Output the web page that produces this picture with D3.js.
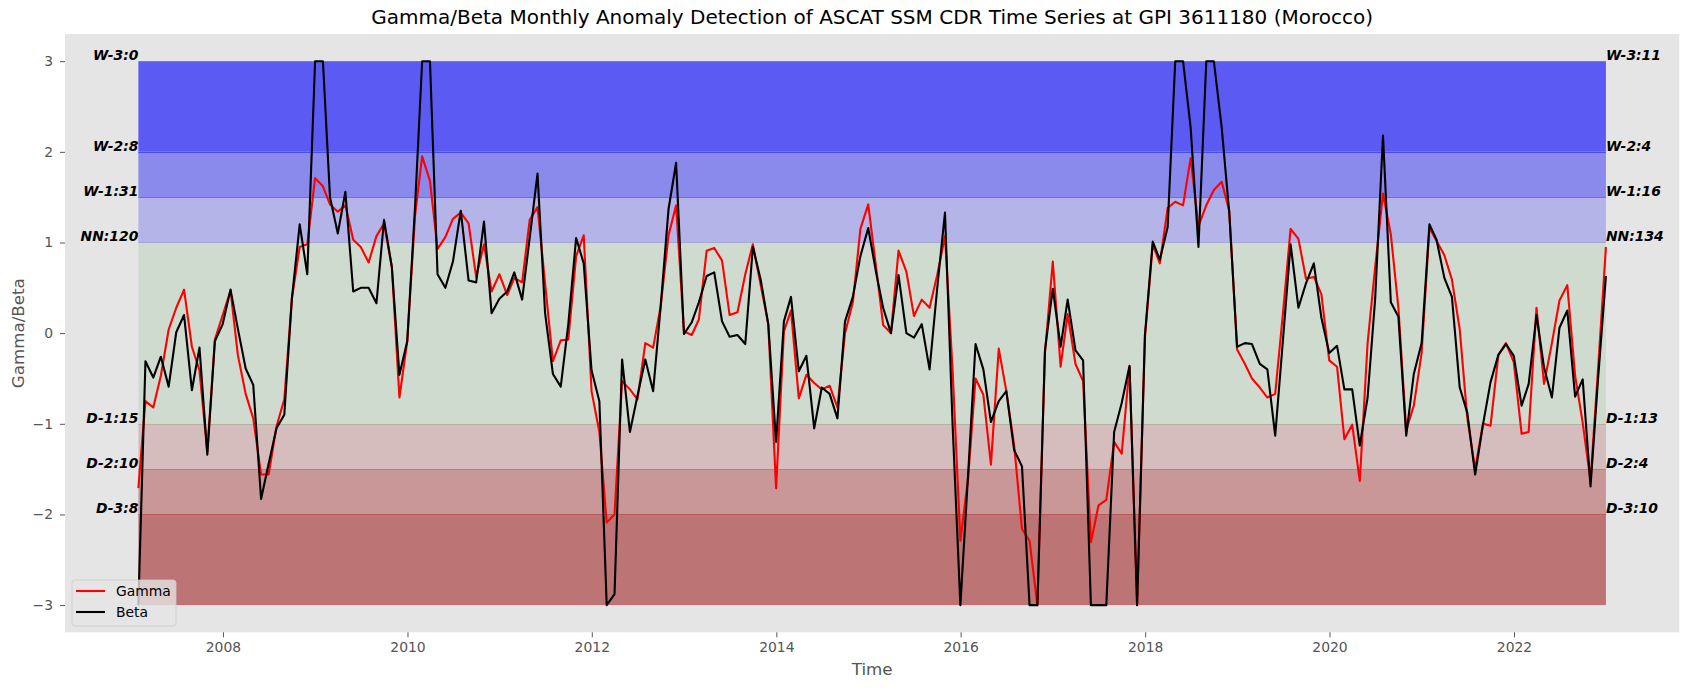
<!DOCTYPE html>
<html>
<head>
<meta charset="utf-8">
<script src="https://cdn.jsdelivr.net/npm/d3@7"></script>
<style>
    body { margin: 0; background: #fff; }
    svg { display: block; font-family: 'DejaVu Sans', sans-serif; }
</style>
</head>
<body>
<div id="chart"></div>
<script>
// monthly values, Jan 2007 .. Dec 2022 (month-end stamps)
const gamma = [
    -1.71, -0.75, -0.82, -0.47, 0.04, 0.28, 0.48, -0.15, -0.41, -1.31, -0.07, 0.20,
    0.47, -0.24, -0.67, -0.94, -1.56, -1.56, -1.03, -0.73, 0.38, 0.95, 0.98, 1.71,
    1.62, 1.42, 1.34, 1.41, 1.03, 0.95, 0.78, 1.07, 1.21, 0.73, -0.71, -0.09,
    1.30, 1.95, 1.68, 0.93, 1.06, 1.26, 1.33, 1.21, 0.62, 0.98, 0.46, 0.65,
    0.42, 0.61, 0.56, 1.25, 1.39, 0.55, -0.31, -0.08, -0.07, 0.85, 1.08, -0.64,
    -1.09, -2.09, -2.00, -0.53, -0.62, -0.73, -0.11, -0.16, 0.30, 1.08, 1.41, 0.02,
    -0.02, 0.15, 0.91, 0.94, 0.80, 0.20, 0.23, 0.65, 0.98, 0.53, 0.10, -1.71,
    0.02, 0.25, -0.72, -0.46, -0.55, -0.62, -0.58, -0.82, 0.00, 0.34, 1.15, 1.42,
    0.73, 0.09, 0.00, 0.91, 0.68, 0.19, 0.37, 0.28, 0.64, 1.07, -0.40, -2.29,
    -1.59, -0.50, -0.68, -1.45, -0.17, -0.64, -1.24, -2.16, -2.29, -3.00, -0.22, 0.79,
    -0.37, 0.21, -0.34, -0.53, -2.31, -1.90, -1.84, -1.20, -1.33, -0.37, -3.00, -0.05,
    0.98, 0.77, 1.38, 1.45, 1.41, 1.93, 1.18, 1.41, 1.58, 1.67, 1.35, -0.18,
    -0.34, -0.50, -0.60, -0.71, -0.67, 0.20, 1.15, 1.04, 0.60, 0.62, 0.43, -0.30,
    -0.37, -1.17, -1.01, -1.63, -0.11, 0.73, 1.54, 1.09, 0.28, -1.07, -0.80, -0.22,
    1.16, 1.02, 0.86, 0.59, 0.04, -0.94, -1.50, -1.00, -1.02, -0.24, -0.11, -0.32,
    -1.11, -1.09, 0.28, -0.56, -0.11, 0.36, 0.53, -0.47, -0.99, -1.63, -0.39, 0.95,
];

const beta = [
    -3.00, -0.31, -0.49, -0.26, -0.59, 0.01, 0.20, -0.63, -0.16, -1.34, -0.09, 0.10,
    0.48, 0.05, -0.39, -0.57, -1.83, -1.44, -1.05, -0.90, 0.38, 1.20, 0.65, 3.00,
    3.00, 1.50, 1.10, 1.56, 0.46, 0.50, 0.50, 0.33, 1.25, 0.73, -0.46, -0.09,
    1.40, 3.00, 3.00, 0.65, 0.50, 0.79, 1.35, 0.58, 0.56, 1.23, 0.22, 0.38,
    0.46, 0.67, 0.37, 1.05, 1.76, 0.22, -0.45, -0.59, 0.10, 1.05, 0.77, -0.41,
    -0.75, -3.00, -2.88, -0.29, -1.09, -0.69, -0.29, -0.64, 0.30, 1.37, 1.88, -0.01,
    0.12, 0.34, 0.63, 0.67, 0.13, -0.04, -0.02, -0.12, 0.95, 0.59, 0.10, -1.20,
    0.13, 0.40, -0.42, -0.25, -1.05, -0.60, -0.67, -0.94, 0.13, 0.40, 0.85, 1.16,
    0.67, 0.28, 0.00, 0.64, 0.00, -0.05, 0.10, -0.40, 0.49, 1.33, -1.00, -3.00,
    -1.54, -0.12, -0.40, -0.98, -0.75, -0.64, -1.29, -1.47, -3.00, -3.00, -0.19, 0.49,
    -0.15, 0.37, -0.19, -0.30, -3.00, -3.00, -3.00, -1.09, -0.77, -0.36, -3.00, -0.02,
    1.01, 0.81, 1.17, 3.00, 3.00, 2.27, 0.95, 3.00, 3.00, 2.27, 1.33, -0.15,
    -0.11, -0.12, -0.34, -0.40, -1.13, -0.10, 0.98, 0.28, 0.55, 0.77, 0.17, -0.22,
    -0.14, -0.62, -0.62, -1.24, -0.71, 0.38, 2.18, 0.34, 0.18, -1.13, -0.45, -0.11,
    1.20, 1.03, 0.61, 0.40, -0.60, -0.88, -1.56, -1.01, -0.54, -0.24, -0.12, -0.25,
    -0.80, -0.56, 0.20, -0.38, -0.71, 0.06, 0.25, -0.70, -0.51, -1.69, -0.50, 0.63,
];

const START_YEAR = 2007;
const yTicks = [-3, -2, -1, 0, 1, 2, 3];
const xTickYears = [2008, 2010, 2012, 2014, 2016, 2018, 2020, 2022];

// anomaly classes: [lower, upper]
const bandNames = ['W-3', 'W-2', 'W-1', 'NN', 'D-1', 'D-2', 'D-3'];
const bandRanges = [[2, 3], [1.5, 2], [1, 1.5], [-1, 1], [-1.5, -1], [-2, -1.5], [-3, -2]];
const labelLevels = [3, 2, 1.5, 1, -1, -1.5, -2];
const gammaCounts = [0, 8, 31, 120, 15, 10, 8];
const betaCounts = [11, 4, 16, 134, 13, 4, 10];

const TITLE = 'Gamma/Beta Monthly Anomaly Detection of ASCAT SSM CDR Time Series at GPI 3611180 (Morocco)';

const WIDTH = 1690, HEIGHT = 690;
const AX = { left: 65, right: 1679.3, top: 34, bottom: 632.3 };
const BAND_FILL = ['#5b5bf3', '#8a8aec', '#b4b4e8', '#d0dbd0', '#d5bdbd', '#c99797', '#bc7474'];
const EDGE_COLORS = { 2: '#4b4bec', 1.5: '#6e6ee6', 1: '#a6a6d4', '-1': '#b8b2a4', '-1.5': '#c07c7c', '-2': '#b85a5a' };

const dates = gamma.map((_, i) => new Date(START_YEAR, i + 1, 0));
const gammaSeries = gamma.map((v, i) => ({ date: dates[i], value: v }));
const betaSeries = beta.map((v, i) => ({ date: dates[i], value: v }));

const t0 = dates[0].getTime();
const t1 = dates[dates.length - 1].getTime();
const pad = (t1 - t0) * 0.05;

const x = d3.scaleTime()
    .domain([new Date(t0 - pad), new Date(t1 + pad)])
    .range([AX.left, AX.right]);

const y = d3.scaleLinear()
    .domain([-3.3, 3.3])
    .range([AX.bottom, AX.top]);

const svg = d3.select('#chart')
    .append('svg')
    .attr('width', WIDTH)
    .attr('height', HEIGHT);

svg.append('rect')
    .attr('width', WIDTH).attr('height', HEIGHT)
    .attr('fill', '#fff');

svg.append('rect')
    .attr('x', AX.left).attr('y', AX.top)
    .attr('width', AX.right - AX.left).attr('height', AX.bottom - AX.top)
    .attr('fill', '#e5e5e5');

const xStart = x(dates[0]);
const xEnd = x(dates[dates.length - 1]);

// shaded anomaly bands
svg.append('g')
    .selectAll('rect')
    .data(bandRanges)
    .enter()
    .append('rect')
    .attr('x', xStart)
    .attr('width', xEnd - xStart)
    .attr('y', d => y(d[1]))
    .attr('height', d => y(d[0]) - y(d[1]))
    .attr('fill', (d, i) => BAND_FILL[i]);

svg.append('g')
    .selectAll('line')
    .data(Object.keys(EDGE_COLORS))
    .enter()
    .append('line')
    .attr('x1', xStart).attr('x2', xEnd)
    .attr('y1', d => Math.round(y(+d)) + 0.5)
    .attr('y2', d => Math.round(y(+d)) + 0.5)
    .attr('stroke', d => EDGE_COLORS[d])
    .attr('stroke-width', 1);

// class labels with counts
const labelStyle = sel => sel
    .attr('font-size', 13.9)
    .attr('font-weight', 'bold')
    .attr('font-style', 'italic')
    .attr('fill', '#000');

svg.append('g')
    .selectAll('text')
    .data(labelLevels)
    .enter()
    .append('text')
    .attr('x', xStart)
    .attr('y', d => y(d) - 1)
    .attr('text-anchor', 'end')
    .call(labelStyle)
    .text((d, i) => `${bandNames[i]}:${gammaCounts[i]}`);

svg.append('g')
    .selectAll('text')
    .data(labelLevels)
    .enter()
    .append('text')
    .attr('x', xEnd)
    .attr('y', d => y(d) - 1)
    .attr('text-anchor', 'start')
    .call(labelStyle)
    .text((d, i) => `${bandNames[i]}:${betaCounts[i]}`);

// series
const line = d3.line()
    .x(d => x(d.date))
    .y(d => y(d.value));

svg.append('path')
    .datum(gammaSeries)
    .attr('d', line)
    .attr('fill', 'none')
    .attr('stroke', '#ff0000')
    .attr('stroke-width', 2.1)
    .attr('stroke-linejoin', 'round');

svg.append('path')
    .datum(betaSeries)
    .attr('d', line)
    .attr('fill', 'none')
    .attr('stroke', '#000')
    .attr('stroke-width', 2.1)
    .attr('stroke-linejoin', 'round');

// axes
const xAxis = svg.append('g')
    .attr('transform', `translate(0,${AX.bottom})`)
    .call(d3.axisBottom(x)
        .tickValues(xTickYears.map(yr => new Date(yr, 0, 1)))
        .tickFormat(d3.timeFormat('%Y'))
        .tickSize(5)
        .tickPadding(5));

const yAxis = svg.append('g')
    .attr('transform', `translate(${AX.left},0)`)
    .call(d3.axisLeft(y)
        .tickValues(yTicks)
        .tickFormat(d => d < 0 ? `\u2212${Math.abs(d)}` : `${d}`)
        .tickSize(5)
        .tickPadding(7));

[xAxis, yAxis].forEach(ax => {
    ax.select('.domain').remove();
    ax.selectAll('.tick line').attr('stroke', '#555');
    ax.selectAll('.tick text')
        .attr('fill', '#555')
        .attr('font-size', 13.9)
        .attr('font-family', 'DejaVu Sans, sans-serif');
});

// titles
svg.append('text')
    .attr('x', (AX.left + AX.right) / 2)
    .attr('y', 24)
    .attr('text-anchor', 'middle')
    .attr('font-size', 20)
    .attr('fill', '#000')
    .text(TITLE);

svg.append('text')
    .attr('x', (AX.left + AX.right) / 2)
    .attr('y', 675)
    .attr('text-anchor', 'middle')
    .attr('font-size', 16.7)
    .attr('fill', '#555')
    .text('Time');

svg.append('text')
    .attr('transform', `translate(24,${(AX.top + AX.bottom) / 2}) rotate(-90)`)
    .attr('text-anchor', 'middle')
    .attr('font-size', 16.7)
    .attr('fill', '#555')
    .text('Gamma/Beta');

// legend
const legend = svg.append('g').attr('transform', 'translate(72,580)');

legend.append('rect')
    .attr('width', 104).attr('height', 46)
    .attr('rx', 3)
    .attr('fill', '#e5e5e5')
    .attr('fill-opacity', 0.8)
    .attr('stroke', '#cccccc')
    .attr('stroke-opacity', 0.8);

const legendItems = [
    { name: 'Gamma', color: '#ff0000' },
    { name: 'Beta', color: '#000' },
];

legendItems.forEach((item, i) => {
    const cy = 11 + i * 21;
    legend.append('line')
        .attr('x1', 4).attr('x2', 33)
        .attr('y1', cy).attr('y2', cy)
        .attr('stroke', item.color)
        .attr('stroke-width', 2.1);
    legend.append('text')
        .attr('x', 44)
        .attr('y', cy + 5)
        .attr('font-size', 13.9)
        .attr('fill', '#000')
        .text(item.name);
});
</script>
</body>
</html>
